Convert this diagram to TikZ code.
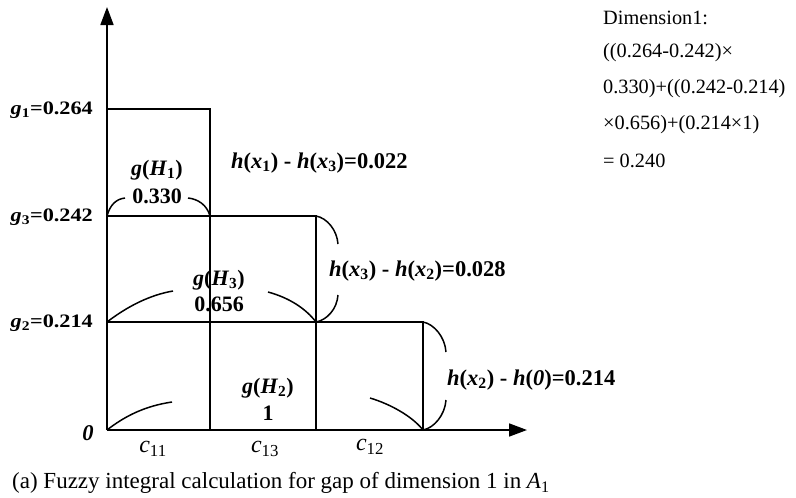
\documentclass[tikz,border=0pt]{standalone}
\usepackage{fontspec}
\setmainfont{Liberation Serif}
\usepackage{graphicx}
\usetikzlibrary{arrows.meta}
\newcommand{\sbs}[1]{\textsubscript{#1}}
\newcommand{\wide}[2]{\scalebox{#1}[1]{#2}}
\begin{document}
\begin{tikzpicture}[x=1pt,y=-1pt,
  ln/.style={line width=1.7pt},
  arcln/.style={line width=1.5pt},
  glab/.style={font=\bfseries\fontsize{19}{21}\selectfont, inner sep=0pt},
  hlab/.style={font=\bfseries\fontsize{22.5}{25}\selectfont, inner sep=0pt},
  ghlab/.style={font=\bfseries\fontsize{22}{25}\selectfont, inner sep=0pt},
  clab/.style={font=\fontsize{24}{26}\selectfont, inner sep=0pt},
  txt/.style={font=\fontsize{20.3}{22}\selectfont, inner sep=0pt},
  tip/.style={-{Triangle[length=18pt,width=13pt]}}]
\useasboundingbox (0,0) rectangle (796,498);
% axes
\coordinate (O) at (107,430);
\coordinate (ytop) at (107,7);
\coordinate (xend) at (527,430);
\draw[ln,tip] (O) -- (ytop);
\draw[ln,tip] (O) -- (xend);
% steps
\coordinate (a1) at (107,109);
\coordinate (a2) at (210,109);
\coordinate (a3) at (210,430);
\coordinate (b1) at (107,216);
\coordinate (b2) at (316,216);
\coordinate (b3) at (316,430);
\coordinate (c1) at (107,322);
\coordinate (c2) at (423,322);
\coordinate (c3) at (423,430);
\draw[ln] (a1) -- (a2) -- (a3);
\draw[ln] (b1) -- (b2) -- (b3);
\draw[ln] (c1) -- (c2) -- (c3);
% arcs g(H1)
\draw[arcln] (b1) .. controls (110,205) and (116,199) .. (125,198);
\draw[arcln] (188,198) .. controls (198,199) and (207,205) .. (210,216);
% arcs g(H3)
\draw[arcln] (c1) .. controls (128,306) and (150,295) .. (173,291);
\draw[arcln] (268,292) .. controls (290,298) and (306,309) .. (b2 |- c1);
% arcs g(H2)
\draw[arcln] (O) .. controls (125,416) and (145,406) .. (172,402);
\draw[arcln] (370,398) .. controls (390,404) and (412,416) .. (c3);
% right arcs
\draw[arcln] (b2) .. controls (327,218) and (337,230) .. (338,244);
\draw[arcln] (338,295) .. controls (337,309) and (327,320) .. (b2 |- c1);
\draw[arcln] (c2) .. controls (434,324) and (445,337) .. (446,352);
\draw[arcln] (446,400) .. controls (445,415) and (434,428) .. (c3);
% axis labels
\node[glab, anchor=east] (lg1) at (93,110) {\wide{1.17}{\textit{g}\sbs{1}=0.264}};
\node[glab, anchor=east] (lg3) at (93,217) {\wide{1.17}{\textit{g}\sbs{3}=0.242}};
\node[glab, anchor=east] (lg2) at (93,323) {\wide{1.17}{\textit{g}\sbs{2}=0.214}};
\node[hlab] (l0) at (88,433) {\textit{0}};
\node[clab] (c11) at (153,449) {\textit{c}\sbs{11}};
\node[clab] (c13) at (265,449) {\textit{c}\sbs{13}};
\node[clab] (c12) at (370,447) {\textit{c}\sbs{12}};
% g(H) labels
\node[ghlab] (gh1) at (157,170) {\textit{g}(\textit{H}\sbs{1})};
\node[ghlab] (gh1v) at (157,196) {0.330};
\node[ghlab] (gh3) at (219,280) {\textit{g}(\textit{H}\sbs{3})};
\node[ghlab] (gh3v) at (219,304) {0.656};
\node[ghlab] (gh2) at (268,388) {\textit{g}(\textit{H}\sbs{2})};
\node[ghlab] (gh2v) at (268,413) {1};
% h labels
\node[hlab, anchor=west] (h1) at (231,163) {\textit{h}(\textit{x}\sbs{1}) - \textit{h}(\textit{x}\sbs{3})=0.022};
\node[hlab, anchor=west] (h2) at (329,271) {\textit{h}(\textit{x}\sbs{3}) - \textit{h}(\textit{x}\sbs{2})=0.028};
\node[hlab, anchor=west] (h3) at (447,380) {\textit{h}(\textit{x}\sbs{2}) - \textit{h}(\textit{0})=0.214};
% dimension text
\node[txt, anchor=west] (d1) at (603,18) {Dimension1:};
\node[txt, anchor=west] (d2) at (603,53) {((0.264-0.242)×};
\node[txt, anchor=west] (d3) at (603,89) {0.330)+((0.242-0.214)};
\node[txt, anchor=west] (d4) at (603,125) {×0.656)+(0.214×1)};
\node[txt, anchor=west] (d5) at (603,161) {= 0.240};
% caption
\node[txt, anchor=west, font=\fontsize{23}{26}\selectfont] (cap) at (12,483) {(a) Fuzzy integral calculation for gap of dimension 1 in \textit{A}\sbs{1}};
\end{tikzpicture}
\end{document}
